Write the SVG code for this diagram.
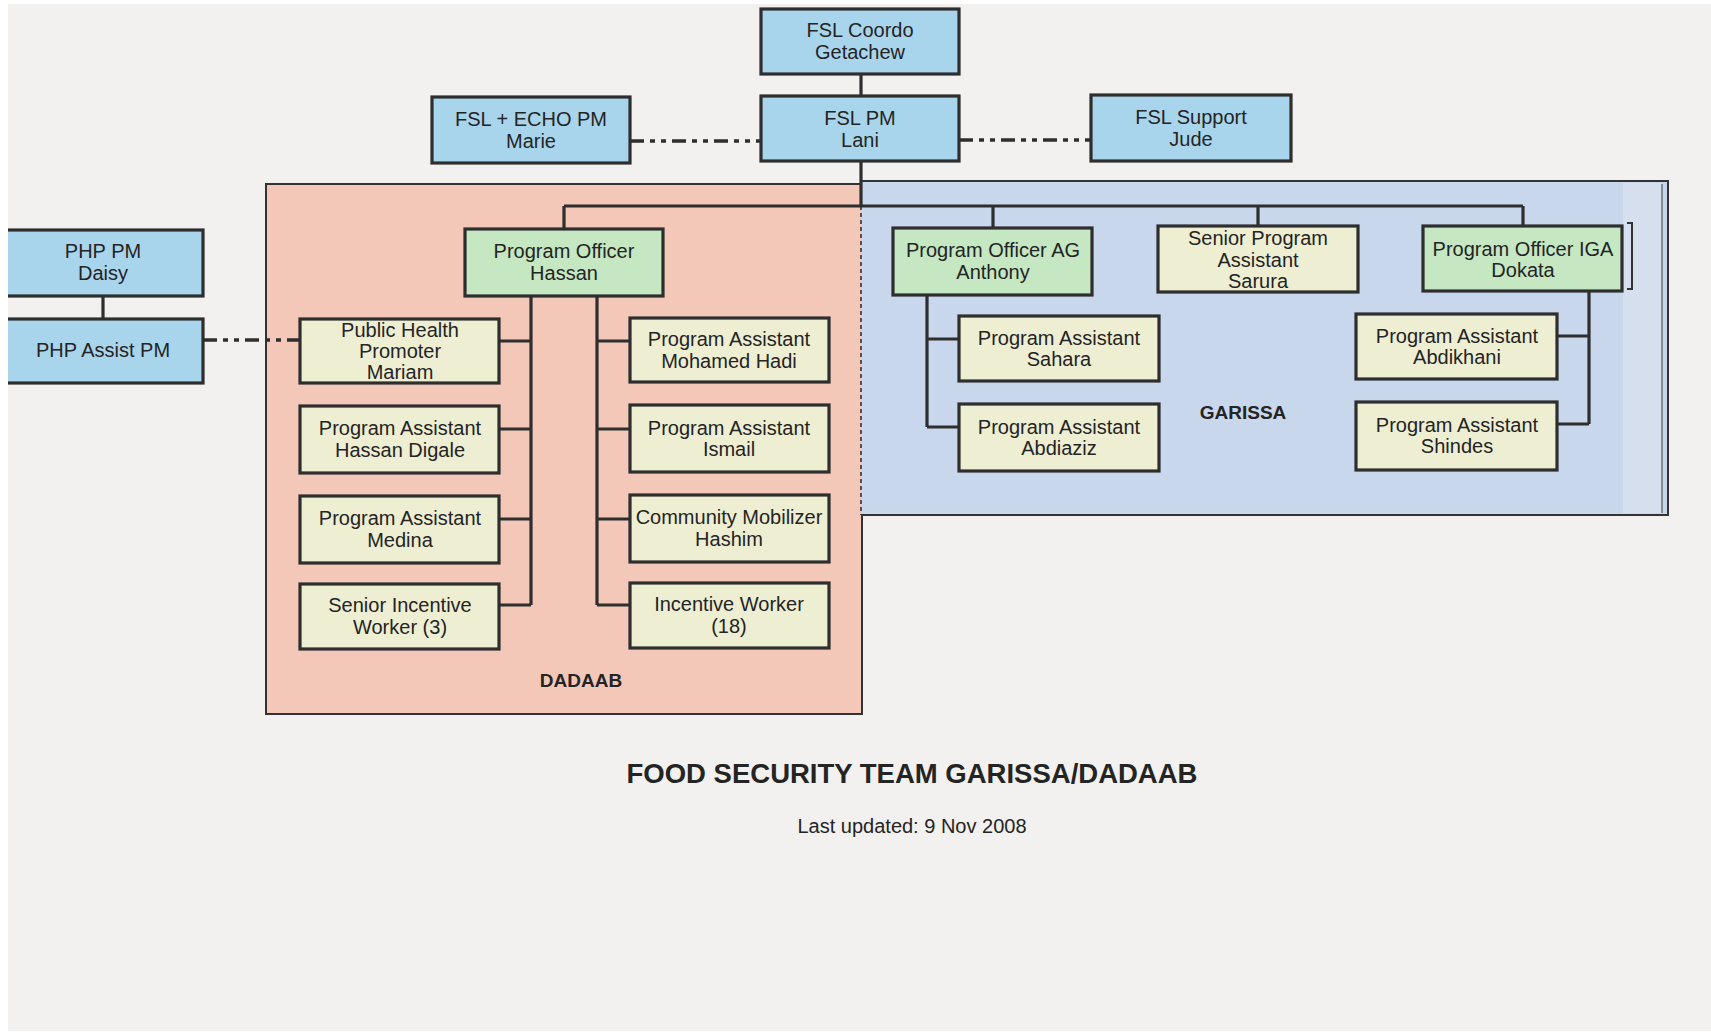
<svg xmlns="http://www.w3.org/2000/svg" width="1711" height="1036" viewBox="0 0 1711 1036">
<style>
.node{stroke:#2e2e2e;stroke-width:3.2}
.blue{fill:#a9d5ec}
.green{fill:#c5e7c2}
.beige{fill:#eeeed3}
.t{font-family:"Liberation Sans",Arial,sans-serif;font-size:20px;fill:#242424;text-anchor:middle}
.lbl{font-family:"Liberation Sans",Arial,sans-serif;font-size:19px;font-weight:bold;fill:#242424;text-anchor:middle}
.line{fill:none;stroke:#2e2e2e;stroke-width:3.2}
.dash{fill:none;stroke:#2e2e2e;stroke-width:3.6;stroke-dasharray:14 6 5 6 5 6}
</style>
<rect x="0" y="0" width="1711" height="1036" fill="#ffffff"/>
<rect x="8" y="4" width="1703" height="1027" fill="#f2f1ef"/>

<g id="regions">
  <rect id="dadaab-region" x="266" y="184" width="596" height="530" fill="#f3c8b8" stroke="#333" stroke-width="2"/>
  <rect x="861" y="181" width="807" height="334" fill="#c9d7ed"/>
  <rect x="1623" y="183" width="39" height="330" fill="#d6dfee"/>
  <path d="M861,181 H1668 V515 H861" fill="none" stroke="#333" stroke-width="2"/>
  <path d="M1662,184 V513" fill="none" stroke="#555" stroke-width="1.2"/>
  <path d="M861,206 V515" fill="none" stroke="#333" stroke-width="1.6" stroke-dasharray="4 3"/>
  <path d="M1627,223 H1632 V289 H1627" fill="none" stroke="#333" stroke-width="2"/>
  <text class="lbl" x="581" y="687">DADAAB</text>
  <text class="lbl" x="1243" y="419">GARISSA</text>
</g>

<g id="connectors">
  <path class="line" d="M861,74 V96"/>
  <path class="line" d="M861,161 V206"/>
  <path class="line" d="M564,206 H1523"/>
  <path class="line" d="M564,206 V229 M993,206 V228 M1258,206 V226 M1523,206 V226"/>
  <path class="line" d="M531,296 V605 M499,341 H531 M499,429 H531 M499,519 H531 M499,605 H531"/>
  <path class="line" d="M597,296 V605 M597,341 H630 M597,429 H630 M597,519 H630 M597,605 H630"/>
  <path class="line" d="M927,295 V427 M927,339 H959 M927,427 H959"/>
  <path class="line" d="M1589,291 V424 M1557,336 H1589 M1557,424 H1589"/>
  <path class="line" d="M103,296 V319"/>
  <path class="dash" d="M630,141 H761"/>
  <path class="dash" d="M959,140 H1091"/>
  <path class="dash" d="M203,340 H300"/>
</g>

<g id="fsl-coordo">
  <rect class="node blue" x="761" y="9" width="198" height="65"/>
  <text class="t" x="860" y="37">FSL Coordo</text>
  <text class="t" x="860" y="59">Getachew</text>
</g>
<g id="fsl-pm">
  <rect class="node blue" x="761" y="96" width="198" height="65"/>
  <text class="t" x="860" y="125">FSL PM</text>
  <text class="t" x="860" y="147">Lani</text>
</g>
<g id="fsl-echo-pm">
  <rect class="node blue" x="432" y="97" width="198" height="66"/>
  <text class="t" x="531" y="126">FSL + ECHO PM</text>
  <text class="t" x="531" y="148">Marie</text>
</g>
<g id="fsl-support">
  <rect class="node blue" x="1091" y="95" width="200" height="66"/>
  <text class="t" x="1191" y="124">FSL Support</text>
  <text class="t" x="1191" y="146">Jude</text>
</g>
<g id="php-pm">
  <rect class="node blue" x="-4" y="230" width="207" height="66"/>
  <text class="t" x="103" y="258">PHP PM</text>
  <text class="t" x="103" y="280">Daisy</text>
</g>
<g id="php-assist">
  <rect class="node blue" x="-4" y="319" width="207" height="64"/>
  <text class="t" x="103" y="357">PHP Assist PM</text>
</g>
<g id="po-hassan">
  <rect class="node green" x="465" y="229" width="198" height="67"/>
  <text class="t" x="564" y="258">Program Officer</text>
  <text class="t" x="564" y="280">Hassan</text>
</g>
<g id="php-mariam">
  <rect class="node beige" x="300" y="319" width="199" height="64"/>
  <text class="t" x="400" y="337">Public Health</text>
  <text class="t" x="400" y="358">Promoter</text>
  <text class="t" x="400" y="379">Mariam</text>
</g>
<g id="pa-hassan-digale">
  <rect class="node beige" x="300" y="406" width="199" height="67"/>
  <text class="t" x="400" y="435">Program Assistant</text>
  <text class="t" x="400" y="457">Hassan Digale</text>
</g>
<g id="pa-medina">
  <rect class="node beige" x="300" y="496" width="199" height="67"/>
  <text class="t" x="400" y="525">Program Assistant</text>
  <text class="t" x="400" y="547">Medina</text>
</g>
<g id="senior-incentive">
  <rect class="node beige" x="300" y="584" width="199" height="65"/>
  <text class="t" x="400" y="612">Senior Incentive</text>
  <text class="t" x="400" y="634">Worker (3)</text>
</g>
<g id="pa-mohamed-hadi">
  <rect class="node beige" x="630" y="318" width="199" height="64"/>
  <text class="t" x="729" y="346">Program Assistant</text>
  <text class="t" x="729" y="368">Mohamed Hadi</text>
</g>
<g id="pa-ismail">
  <rect class="node beige" x="630" y="405" width="199" height="67"/>
  <text class="t" x="729" y="435">Program Assistant</text>
  <text class="t" x="729" y="456">Ismail</text>
</g>
<g id="cm-hashim">
  <rect class="node beige" x="630" y="495" width="199" height="67"/>
  <text class="t" x="729" y="524">Community Mobilizer</text>
  <text class="t" x="729" y="546">Hashim</text>
</g>
<g id="incentive-worker">
  <rect class="node beige" x="630" y="583" width="199" height="65"/>
  <text class="t" x="729" y="611">Incentive Worker</text>
  <text class="t" x="729" y="633">(18)</text>
</g>
<g id="po-anthony">
  <rect class="node green" x="893" y="228" width="199" height="67"/>
  <text class="t" x="993" y="257">Program Officer AG</text>
  <text class="t" x="993" y="279">Anthony</text>
</g>
<g id="spa-sarura">
  <rect class="node beige" x="1158" y="226" width="200" height="66"/>
  <text class="t" x="1258" y="245">Senior Program</text>
  <text class="t" x="1258" y="267">Assistant</text>
  <text class="t" x="1258" y="288">Sarura</text>
</g>
<g id="po-dokata">
  <rect class="node green" x="1423" y="226" width="199" height="65"/>
  <text class="t" x="1523" y="256">Program Officer IGA</text>
  <text class="t" x="1523" y="277">Dokata</text>
</g>
<g id="pa-sahara">
  <rect class="node beige" x="959" y="316" width="200" height="65"/>
  <text class="t" x="1059" y="345">Program Assistant</text>
  <text class="t" x="1059" y="366">Sahara</text>
</g>
<g id="pa-abdiaziz">
  <rect class="node beige" x="959" y="404" width="200" height="67"/>
  <text class="t" x="1059" y="434">Program Assistant</text>
  <text class="t" x="1059" y="455">Abdiaziz</text>
</g>
<g id="pa-abdikhani">
  <rect class="node beige" x="1356" y="314" width="201" height="65"/>
  <text class="t" x="1457" y="343">Program Assistant</text>
  <text class="t" x="1457" y="364">Abdikhani</text>
</g>
<g id="pa-shindes">
  <rect class="node beige" x="1356" y="402" width="201" height="68"/>
  <text class="t" x="1457" y="432">Program Assistant</text>
  <text class="t" x="1457" y="453">Shindes</text>
</g>

<text x="912" y="783" style="font-family:'Liberation Sans',Arial,sans-serif;font-size:27.5px;font-weight:bold;fill:#242424;text-anchor:middle">FOOD SECURITY TEAM GARISSA/DADAAB</text>
<text x="912" y="833" style="font-family:'Liberation Sans',Arial,sans-serif;font-size:20px;fill:#242424;text-anchor:middle">Last updated: 9 Nov 2008</text>

<rect x="0" y="0" width="8" height="1036" fill="#ffffff"/>
<rect x="0" y="1031" width="1711" height="5" fill="#ffffff"/>
</svg>
